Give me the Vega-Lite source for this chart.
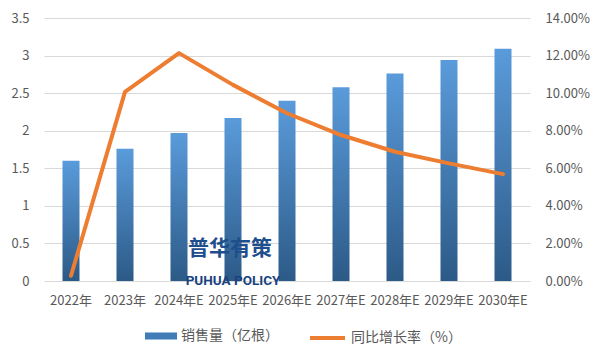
{
  "$schema": "https://vega.github.io/schema/vega-lite/v6.json",
  "width": 486,
  "height": 263,
  "autosize": {"type": "none"},
  "padding": {"left": 44, "top": 18, "right": 71, "bottom": 80},
  "background": "white",
  "config": {
    "view": {"stroke": null},
    "font": "Noto Sans CJK SC",
    "axis": {"labelFont": "Noto Sans CJK SC", "labelFontSize": 13, "labelColor": "#595959", "domain": false, "ticks": false, "title": null, "labelOverlap": false},
    "legend": {"labelFont": "Noto Sans CJK SC", "labelFontSize": 14, "labelColor": "#595959", "padding": 0, "title": null, "labelOffset": 4}
  },
  "data": {
    "values": [
      {"year": "2022年", "sales": 1.60, "growth": 0.0028},
      {"year": "2023年", "sales": 1.76, "growth": 0.1007},
      {"year": "2024年E", "sales": 1.97, "growth": 0.1213},
      {"year": "2025年E", "sales": 2.17, "growth": 0.1044},
      {"year": "2026年E", "sales": 2.40, "growth": 0.0893},
      {"year": "2027年E", "sales": 2.58, "growth": 0.0777},
      {"year": "2028年E", "sales": 2.76, "growth": 0.0688},
      {"year": "2029年E", "sales": 2.94, "growth": 0.0626},
      {"year": "2030年E", "sales": 3.09, "growth": 0.0569}
    ]
  },
  "layer": [
    {
      "layer": [
        {
          "mark": {"type": "bar", "width": 17},
          "encoding": {
            "x": {"field": "year", "type": "nominal", "sort": null, "scale": {"paddingInner": 0, "paddingOuter": 0}, "axis": {"labelAngle": 0, "labelPadding": 13, "grid": false}},
            "y": {"field": "sales", "type": "quantitative", "scale": {"domain": [0, 3.5], "nice": false}, "axis": {"values": [0, 0.5, 1, 1.5, 2, 2.5, 3, 3.5], "format": "~g", "grid": true, "gridColor": "#D9D9D9", "gridWidth": 1, "labelPadding": 15}},
            "fill": {
              "condition": {"test": "true", "value": {"gradient": "linear", "x1": 0, "y1": 0, "x2": 0, "y2": 1, "stops": [{"offset": 0, "color": "#5A9BDB"}, {"offset": 1, "color": "#2C5A87"}]}},
              "datum": "销售量（亿根）",
              "scale": {"range": ["#3F7CB8"]},
              "legend": {
                "orient": "none", "legendX": 101, "legendY": 302,
                "symbolType": "M-1,-0.22H1V0.22H-1Z", "symbolSize": 1024, "symbolStrokeWidth": 0,
                "encode": {"symbols": {"update": {"fill": {"value": {"gradient": "linear", "x1": 0, "y1": 0, "x2": 0, "y2": 1, "stops": [{"offset": 0, "color": "#4F8FCF"}, {"offset": 1, "color": "#2C5A87"}]}}, "stroke": {"value": "transparent"}}}}
              }
            }
          }
        },
        {
          "data": {"values": [{"t": "普华有策"}]},
          "mark": {"type": "text", "fontSize": 21, "fontWeight": "bold", "color": "#1F4E8D", "font": "Noto Sans CJK SC", "baseline": "middle", "dx": -3},
          "encoding": {
            "x": {"datum": "2025年E", "type": "nominal", "axis": {"labelAngle": 0, "labelPadding": 13, "grid": false}},
            "y": {"datum": 0.426, "type": "quantitative", "axis": {"values": [0, 0.5, 1, 1.5, 2, 2.5, 3, 3.5], "format": "~g", "grid": true, "gridColor": "#D9D9D9", "gridWidth": 1, "labelPadding": 15}},
            "text": {"field": "t"}
          }
        },
        {
          "data": {"values": [{"t": "PUHUA POLICY"}]},
          "mark": {"type": "text", "fontSize": 13.5, "fontWeight": "bold", "color": "#1B437F", "font": "Liberation Sans Narrow, Roboto", "baseline": "middle", "dy": -0.5},
          "encoding": {
            "x": {"datum": "2025年E", "type": "nominal", "axis": {"labelAngle": 0, "labelPadding": 13, "grid": false}},
            "y": {"datum": 0, "type": "quantitative", "axis": {"values": [0, 0.5, 1, 1.5, 2, 2.5, 3, 3.5], "format": "~g", "grid": true, "gridColor": "#D9D9D9", "gridWidth": 1, "labelPadding": 15}},
            "text": {"field": "t"}
          }
        }
      ]
    },
    {
      "mark": {"type": "line", "strokeWidth": 4, "strokeCap": "round", "strokeJoin": "round"},
      "encoding": {
        "x": {"field": "year", "type": "nominal", "sort": null, "axis": {"labelAngle": 0, "labelPadding": 13, "grid": false}},
        "y": {"field": "growth", "type": "quantitative", "scale": {"domain": [0, 0.14], "nice": false}, "axis": {"orient": "right", "values": [0, 0.02, 0.04, 0.06, 0.08, 0.1, 0.12, 0.14], "format": ".2%", "grid": false, "labelPadding": 15}},
        "stroke": {
          "datum": "同比增长率（%）",
          "scale": {"range": ["#ED7D31"]},
          "legend": {"orient": "none", "legendX": 264, "legendY": 300.5, "symbolType": "stroke", "symbolSize": 1225, "symbolStrokeWidth": 4}
        }
      }
    }
  ],
  "resolve": {"scale": {"y": "independent"}}
}
